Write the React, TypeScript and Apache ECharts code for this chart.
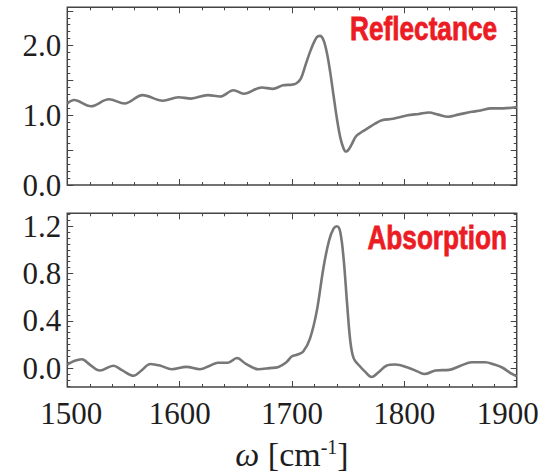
import React, { useEffect, useRef } from "react";
import * as echarts from "echarts";

// ---- Data ----
const reflWavenumber = [
  1500, 1506, 1521, 1537, 1551, 1567, 1585, 1599, 1610, 1625, 1636, 1648, 1657, 1673, 1683, 1692,
  1700, 1704, 1708, 1712, 1717, 1722, 1725, 1728, 1731, 1734, 1737, 1740, 1743, 1746, 1748, 1750,
  1753, 1757, 1762, 1768, 1774, 1780, 1790, 1803, 1813, 1822, 1830, 1839, 1848, 1860, 1868, 1877,
  1888, 1900,
];
const reflValues = [
  1.17, 1.22, 1.13, 1.23, 1.17, 1.29, 1.21, 1.26, 1.24, 1.29, 1.27, 1.36, 1.31, 1.4, 1.38, 1.43,
  1.44, 1.46, 1.53, 1.72, 1.95, 2.12, 2.14, 2.08, 1.9, 1.62, 1.28, 0.95, 0.68, 0.52, 0.48, 0.5,
  0.58, 0.7, 0.76, 0.82, 0.88, 0.93, 0.95, 1.0, 1.02, 1.04, 1.01, 0.98, 1.01, 1.05, 1.07, 1.1,
  1.1, 1.12,
];

const absWavenumber = [
  1500, 1506, 1513, 1520, 1529, 1541, 1549, 1559, 1566, 1574, 1583, 1593, 1606, 1618, 1627, 1634,
  1643, 1651, 1659, 1670, 1680, 1688, 1695, 1700, 1705, 1710, 1716, 1722, 1728, 1733, 1737, 1740,
  1743, 1746, 1749, 1752, 1755, 1760, 1765, 1771, 1777, 1784, 1792, 1803, 1812, 1818, 1828, 1840,
  1850, 1860, 1872, 1880, 1887, 1895, 1900,
];
const absValues = [
  0.03, 0.06, 0.075, 0.03, -0.02, 0.02, -0.02, -0.065, -0.02, 0.035, 0.02, -0.01, 0.01, -0.01, 0.02, 0.045,
  0.045, 0.085, 0.035, -0.01, 0.0, 0.01, 0.05, 0.1, 0.115, 0.14, 0.25, 0.48, 0.85, 1.08, 1.18, 1.2,
  1.15, 0.92, 0.55, 0.22, 0.08, 0.02, -0.03, -0.075, -0.035, 0.02, 0.03, 0.005, -0.03, -0.05, -0.02, -0.015,
  0.02, 0.05, 0.05, 0.03, 0.005, -0.045, -0.07,
];

const xTickLabels = [1500, 1600, 1700, 1800, 1900];
const reflTickLabels = [0, 1, 2];
const reflMajorTicks = [0, 0.5, 1, 1.5, 2, 2.5];
const reflMinorTicks = [
  0.1, 0.2, 0.3, 0.4, 0.6, 0.7, 0.8, 0.9, 1.1, 1.2, 1.3, 1.4, 1.6, 1.7, 1.8, 1.9, 2.1, 2.2, 2.3, 2.4,
];
const absTickLabels = [0, 0.4, 0.8, 1.2];
const absMinorTicks = [
  -0.15, -0.1, -0.05, 0.05, 0.1, 0.15, 0.2, 0.25, 0.3, 0.35, 0.45, 0.5, 0.55, 0.6, 0.65, 0.7, 0.75,
  0.85, 0.9, 0.95, 1.0, 1.05, 1.1, 1.15, 1.25, 1.3,
];

const SERIF = "'Liberation Serif', 'Times New Roman', serif";
const FRAME = "#444";
const TEXT = "#1e1e1e";
const LINE = "#777";
const RED = "#ec1c24";
const LABEL_FONT = "'Liberation Sans', Arial, sans-serif";

function xAxisDef(gridIndex: number, position: "top" | "bottom", labels: boolean, name?: boolean) {
  return {
    type: "value",
    gridIndex,
    position,
    min: 1500,
    max: 1900,
    interval: 100,
    axisLine: { show: false, onZero: false },
    splitLine: { show: false },
    axisTick: { show: true, inside: true, length: 6, lineStyle: { color: FRAME, width: 1 } },
    minorTick: { show: true, splitNumber: 5, length: 3, lineStyle: { color: FRAME, width: 1 } },
    minorSplitLine: { show: false },
    axisLabel: labels
      ? {
          show: true,
          margin: 11,
          fontFamily: SERIF,
          fontSize: 31,
          color: TEXT,
          customValues: xTickLabels,
          formatter: (v: number) =>
            v === 1500 ? `{first|${v}}` : v === 1900 ? `{last|${v}}` : String(v),
          rich: {
            first: { fontFamily: SERIF, fontSize: 31, color: TEXT, padding: [0, 0, 0, 8] },
            last: { fontFamily: SERIF, fontSize: 31, color: TEXT, padding: [0, 18, 0, 0] },
          },
        }
      : { show: false },
    ...(name
      ? {
          name: "{i|ω} [cm{s|-1}]",
          nameLocation: "middle",
          nameGap: 50,
          nameTextStyle: {
            fontFamily: SERIF,
            fontSize: 34,
            color: TEXT,
            rich: {
              i: { fontFamily: SERIF, fontStyle: "italic", fontSize: 34, color: TEXT },
              s: { fontFamily: SERIF, fontSize: 20, color: TEXT, verticalAlign: "top" },
            },
          },
        }
      : {}),
  };
}

function yAxisDef(
  gridIndex: number,
  position: "left" | "right",
  min: number,
  max: number,
  ticks: number[],
  tickLen: number,
  labels?: number[]
) {
  return {
    type: "value",
    gridIndex,
    position,
    min,
    max,
    axisLine: { show: false, onZero: false },
    splitLine: { show: false },
    axisTick: {
      show: true,
      inside: true,
      length: tickLen,
      customValues: ticks,
      lineStyle: { color: FRAME, width: 1 },
    },
    axisLabel: labels
      ? {
          show: true,
          margin: 6,
          fontFamily: SERIF,
          fontSize: 31,
          color: TEXT,
          customValues: labels,
          formatter: (v: number) => v.toFixed(1),
        }
      : { show: false },
  };
}

export default function App() {
  const ref = useRef<HTMLDivElement>(null);
  useEffect(() => {
    if (!ref.current) return;
    const chart = echarts.init(ref.current, undefined, { renderer: "svg" });
    const reflData = reflWavenumber.map((x, i) => [x, reflValues[i]]);
    const absData = absWavenumber.map((x, i) => [x, absValues[i]]);
    chart.setOption({
      animation: false,
      backgroundColor: "#fff",
      grid: [
        { left: 67.3, right: 34.3, top: 7.3, height: 177.7, show: true, borderColor: FRAME, borderWidth: 1.5 },
        { left: 67.3, right: 34.3, top: 213.3, height: 179, show: true, borderColor: FRAME, borderWidth: 1.5 },
      ],
      xAxis: [
        xAxisDef(0, "bottom", false),
        xAxisDef(0, "top", false),
        xAxisDef(1, "bottom", true, true),
        xAxisDef(1, "top", false),
      ],
      yAxis: [
        yAxisDef(0, "left", 0, 2.55, reflMajorTicks, 6, reflTickLabels),
        yAxisDef(0, "left", 0, 2.55, reflMinorTicks, 3),
        yAxisDef(0, "right", 0, 2.55, reflMajorTicks, 6),
        yAxisDef(0, "right", 0, 2.55, reflMinorTicks, 3),
        yAxisDef(1, "left", -0.16, 1.31, absTickLabels, 6, absTickLabels),
        yAxisDef(1, "left", -0.16, 1.31, absMinorTicks, 3),
        yAxisDef(1, "right", -0.16, 1.31, absTickLabels, 6),
        yAxisDef(1, "right", -0.16, 1.31, absMinorTicks, 3),
      ],
      series: [
        {
          type: "line",
          name: "Reflectance",
          xAxisIndex: 0,
          yAxisIndex: 0,
          data: reflData,
          showSymbol: false,
          symbol: "none",
          smooth: 0.35,
          lineStyle: { color: LINE, width: 2.6 },
        },
        {
          type: "line",
          name: "Absorption",
          xAxisIndex: 2,
          yAxisIndex: 4,
          data: absData,
          showSymbol: false,
          symbol: "none",
          smooth: 0.35,
          lineStyle: { color: LINE, width: 2.6 },
        },
      ],
      graphic: [
        {
          type: "text",
          x: 497,
          y: 28,
          scaleX: 0.77,
          style: {
            text: "Reflectance",
            font: `bold 34px ${LABEL_FONT}`,
            fill: RED,
            stroke: RED,
            lineWidth: 0.8,
            align: "right",
            verticalAlign: "middle",
          },
        },
        {
          type: "text",
          x: 507,
          y: 237,
          scaleX: 0.77,
          style: {
            text: "Absorption",
            font: `bold 34px ${LABEL_FONT}`,
            fill: RED,
            stroke: RED,
            lineWidth: 0.8,
            align: "right",
            verticalAlign: "middle",
          },
        },
      ],
    });
    return () => chart.dispose();
  }, []);
  return (
    <div
      ref={ref}
      style={{ position: "fixed", left: 0, top: 0, width: 551, height: 472, background: "#fff" }}
    />
  );
}
